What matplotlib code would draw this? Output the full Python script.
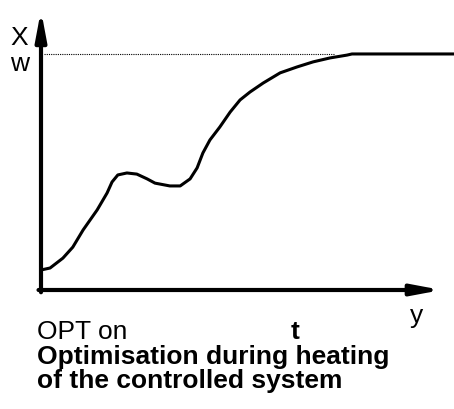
import matplotlib.pyplot as plt

plt.rcParams['font.family'] = ['Liberation Sans', 'DejaVu Sans']

# Verlauf der Regelgroesse X ueber die Zeit t (willkuerliche Einheiten)
t = [0, 2.2, 5.3, 7.7, 10.2, 13.6, 16.0, 17.2, 18.6, 20.8, 23.2, 25.7, 27.6,
     31.2, 33.7, 36.1, 37.8, 39.2, 40.9, 43.3, 45.8, 48.2, 50.6, 53.8, 57.9,
     62.0, 65.9, 70.0, 74.1, 75.3, 100]
x = [7.1, 7.8, 11.3, 15.2, 21.3, 28.4, 34.4, 38.3, 40.8, 41.5, 41.1, 39.4, 37.9,
     36.9, 36.9, 39.4, 43.3, 48.6, 53.2, 57.8, 63.1, 67.4, 70.2, 73.4, 77.0,
     79.1, 80.9, 82.3, 83.3, 83.7, 83.7]
w = 83.7          # Sollwert
t_w_ende = 71     # Ende der gestrichelten Sollwertlinie

W, H = 454, 409
fig = plt.figure(figsize=(W / 100, H / 100), dpi=100)
ax = fig.add_axes([41 / W, 119 / H, 413 / W, 282 / H])
ax.set_xlim(0, 100)
ax.set_ylim(0, 100)
ax.axis('off')

# Kurve und Sollwert
ax.plot(t, x, color='black', lw=2.2, solid_capstyle='butt', clip_on=False)
ax.plot([0.7, t_w_ende], [w, w], color='black', lw=0.8, ls=(0, (1, 1)))

# Achsen mit Pfeilen
pfeil = dict(arrowstyle='-|>,head_length=1.7,head_width=0.32',
             lw=3, color='black', shrinkA=0, shrinkB=0)
ax.annotate('', xy=(97.0, 0), xytext=(-0.6, 0), arrowprops=pfeil,
            annotation_clip=False)
ax.annotate('', xy=(0, 99.2), xytext=(0, -0.8), arrowprops=pfeil,
            annotation_clip=False)

# Beschriftungen (Position in Pixeln von oben links)
def txt(px, py, s, **kw):
    fig.text(px / W, 1 - py / H, s, fontsize=19, va='baseline', **kw)

txt(10, 45, 'X')
txt(10, 71, 'w')
txt(410, 323, 'y')
txt(37, 339, 'OPT on')
txt(295, 339, 't', fontweight='bold', ha='center')
txt(37, 364, 'Optimisation during heating', fontweight='bold')
txt(37, 388, 'of the controlled system', fontweight='bold')

plt.savefig('out.png', dpi=100)
